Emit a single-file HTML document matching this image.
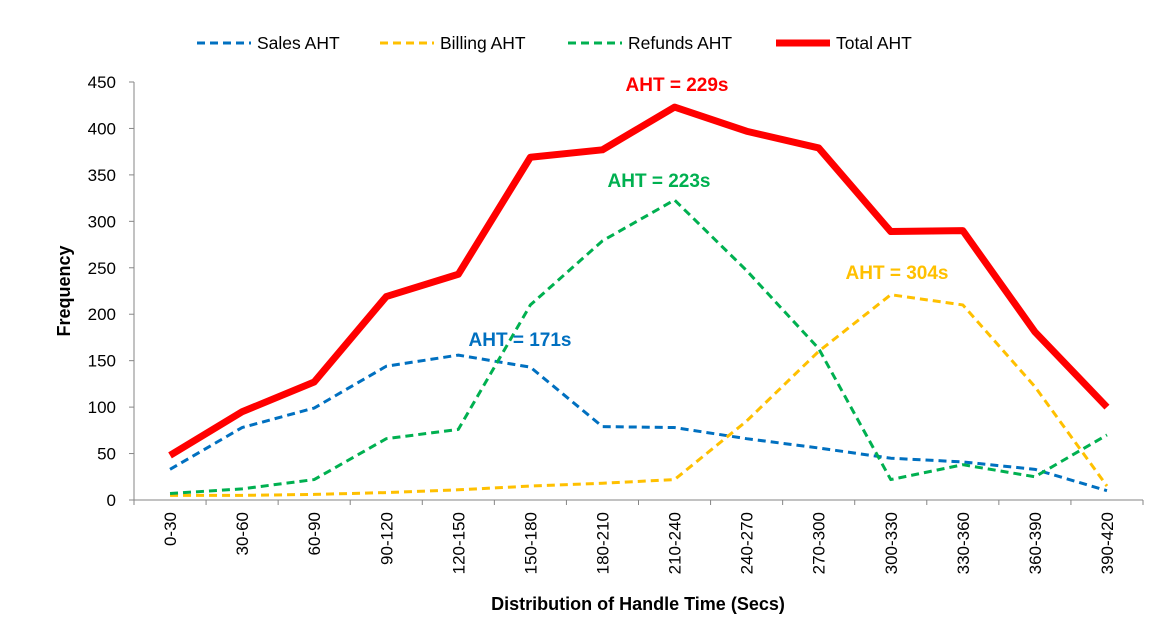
<!DOCTYPE html>
<html><head><meta charset="utf-8"><style>
body{margin:0;background:#fff;}
svg{display:block;font-family:"Liberation Sans",Arial,sans-serif;}
</style></head><body>
<svg id="c" width="1172" height="642"></svg>
<script>
const categories=["0-30","30-60","60-90","90-120","120-150","150-180","180-210","210-240","240-270","270-300","300-330","330-360","360-390","390-420"];
const salesAHT=[33,78,99,144,156,143,79,78,66,56,45,41,33,10];
const billingAHT=[5,5,6,8,11,15,18,22,85,160,221,210,122,15];
const refundsAHT=[7,12,22,66,76,210,279,323,247,163,22,38,25,70];
const totalAHT=[48,95,127,219,243,369,377,423,397,379,289,290,181,100];
const yTicks=[0,50,100,150,200,250,300,350,400,450];
const NS="http://www.w3.org/2000/svg";
const svg=document.getElementById('c');
const L=134,R=1143,T=82,B=500,yMax=450;
const step=(R-L)/categories.length;
const x=i=>L+step*(i+0.5);
const y=v=>B-(v/yMax)*(B-T);
function mk(tag,attrs,parent){const e=document.createElementNS(NS,tag);for(const k in attrs)e.setAttribute(k,attrs[k]);(parent||svg).appendChild(e);return e;}
let e=mk('line',{x1:L,y1:T,x2:L,y2:B,stroke:'#868686','stroke-width':1});


e=mk('line',{x1:L,y1:B,x2:R,y2:B,stroke:'#868686','stroke-width':1});


yTicks.forEach(v=>{
 mk('line',{x1:L-5,y1:y(v),x2:L,y2:y(v),stroke:'#868686'});
 const t=mk('text',{x:L-18,y:y(v)+6,'text-anchor':'end','font-size':17,fill:'#000'});
 t.textContent=v;
 
 
});
for(let i=0;i<=categories.length;i++){mk('line',{x1:L+step*i,y1:B,x2:L+step*i,y2:B+5,stroke:'#868686'});}
categories.forEach((c,i)=>{
 const t=mk('text',{x:0,y:0,'text-anchor':'end','font-size':17,fill:'#000',transform:`translate(${x(i)+6},${B+12}) rotate(-90)`});
 t.textContent=c;
 
 
});
function series(data,color,w,dash,name){
 const p=mk('polyline',{points:data.map((v,i)=>x(i)+','+y(v)).join(' '),fill:'none',stroke:color,'stroke-width':w,'stroke-dasharray':dash||'none','stroke-linejoin':'round'});
 
 
}
series(salesAHT,'#0070C0',3,'8,5','sales-aht-line');
series(billingAHT,'#FFC000',3,'8,5','billing-aht-line');
series(refundsAHT,'#00B050',3,'8,5','refunds-aht-line');
series(totalAHT,'#FF0000',7,null,'total-aht-line');
function lab(tx,xx,yy,col,name){const t=mk('text',{x:xx,y:yy,'text-anchor':'middle','font-size':19,'font-weight':'bold',fill:col});t.textContent=tx;}
lab('AHT = 229s',677,91,'#FF0000','total-aht-label');
lab('AHT = 223s',659,187,'#00B050','refunds-aht-label');
lab('AHT = 304s',897,279,'#FFC000','billing-aht-label');
lab('AHT = 171s',520,346,'#0070C0','sales-aht-label');
const leg=[['Sales AHT','#0070C0',3,'8,5',197],['Billing AHT','#FFC000',3,'8,5',380],['Refunds AHT','#00B050',3,'8,5',568],['Total AHT','#FF0000',7,null,776]];
leg.forEach(l=>{
 const g=mk('g',{});
 
 
 mk('line',{x1:l[4],y1:43,x2:l[4]+54,y2:43,stroke:l[1],'stroke-width':l[2],'stroke-dasharray':l[3]||'none'},g);
 const t=mk('text',{x:l[4]+60,y:49,'font-size':17.5,fill:'#000'},g);t.textContent=l[0];
});
let t=mk('text',{x:0,y:0,'text-anchor':'middle','font-size':18,'font-weight':'bold',transform:'translate(70,291) rotate(-90)'});
t.textContent='Frequency';


t=mk('text',{x:638,y:610,'text-anchor':'middle','font-size':18,'font-weight':'bold'});
t.textContent='Distribution of Handle Time (Secs)';


</script>
</body></html>
